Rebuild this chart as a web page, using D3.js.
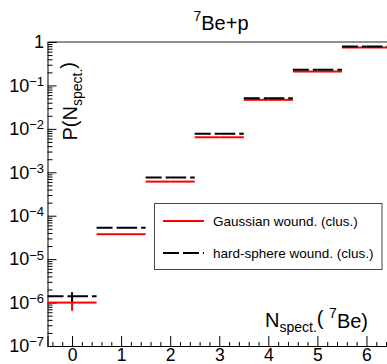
<!DOCTYPE html>
<html lang="en">
  <head>
    <meta charset="UTF-8" />
    <script src="https://d3js.org/d3.v7.min.js"></script>
    <style>
      body { margin: 0; background: #fff; }
      text { font-family: "Liberation Sans", Arial, Helvetica, sans-serif; }
    </style>
  </head>
  <body>
    <div id="chart"></div>
    <script>
      // bins of N_spect.(7Be)
      const bins = [0, 1, 2, 3, 4, 5, 6];
      // Gaussian wound. (clus.)
      const gaussVals = [1.0e-6, 3.75e-5, 6.1e-4, 6.4e-3, 0.0466, 0.209, 0.747];
      const gaussErrs = [0.35e-6, 1.0e-6, 6e-6, 4e-5, 2e-4, 6e-4, 1e-3];
      // hard-sphere wound. (clus.)
      const hardVals = [1.4e-6, 5.3e-5, 7.55e-4, 7.7e-3, 0.051, 0.229, 0.787];
      const hardErrs = [0.33e-6, 1.2e-6, 7e-6, 4e-5, 2e-4, 6e-4, 1e-3];

      const yMajor = [1e-7, 1e-6, 1e-5, 1e-4, 1e-3, 1e-2, 1e-1, 1];
      const xMajor = [0, 1, 2, 3, 4, 5, 6];

      const W = 387, H = 364;
      const margin = { top: 42, right: -4, bottom: 18, left: 47.5 };

      const svg = d3.select("#chart").append("svg")
        .attr("width", W).attr("height", H);

      const x = d3.scaleLinear().domain([-0.5, 6.5])
        .range([margin.left, W - margin.right]);
      const y = d3.scaleLog().domain([1e-7, 1])
        .range([H - margin.bottom, margin.top]);

      // minor ticks
      const yMinor = [];
      for (let e = -7; e < 0; e++) {
        for (let m = 2; m <= 9; m++) yMinor.push(m * Math.pow(10, e));
      }
      const xMinor = d3.range(-0.4, 6.5, 0.2).filter(v => Math.abs(v - Math.round(v)) > 0.01);

      // top frame line
      svg.append("line")
        .attr("x1", margin.left).attr("x2", W)
        .attr("y1", margin.top).attr("y2", margin.top)
        .attr("stroke", "#222").attr("stroke-width", 1);

      // y axis
      const yAxis = svg.append("g")
        .attr("transform", `translate(${margin.left},0)`)
        .call(d3.axisLeft(y).tickValues(yMajor).tickSize(-9).tickPadding(3.5)
          .tickFormat(() => ""));
      svg.append("g")
        .attr("transform", `translate(${margin.left},0)`)
        .call(d3.axisLeft(y).tickValues(yMinor).tickSize(-5).tickFormat(() => ""))
        .select(".domain").remove();

      yAxis.selectAll(".tick text").each(function (d) {
        const t = d3.select(this)
          .attr("font-size", 18).attr("fill", "#000")
          .attr("font-family", "Liberation Sans, Arial, sans-serif");
        const e = Math.round(Math.log10(d));
        if (e === 0) {
          t.text("1");
        } else {
          t.append("tspan").text("10");
          t.append("tspan").attr("font-size", 13).attr("dy", "-0.45em").text("\u2212" + (-e));
        }
      });
      yAxis.selectAll("path, line").attr("stroke", "#000");

      // x axis
      const xAxis = svg.append("g")
        .attr("transform", `translate(0,${H - margin.bottom})`)
        .call(d3.axisBottom(x).tickValues(xMajor).tickSize(-10).tickPadding(3)
          .tickFormat(d3.format("d")));
      svg.append("g")
        .attr("transform", `translate(0,${H - margin.bottom})`)
        .call(d3.axisBottom(x).tickValues(xMinor).tickSize(-4).tickFormat(() => ""))
        .select(".domain").remove();
      xAxis.selectAll(".tick text")
        .attr("font-size", 17.5).attr("fill", "#000")
        .attr("font-family", "Liberation Sans, Arial, sans-serif");

      // histograms with error bars
      function drawHist(vals, errs, color, dash) {
        const g = svg.append("g");
        bins.forEach((b, i) => {
          const cy = y(vals[i]);
          // horizontal bin width, drawn as two halves
          [[b - 0.5, b], [b, b + 0.5]].forEach(([a, c]) => {
            g.append("line")
              .attr("x1", x(a)).attr("x2", x(c))
              .attr("y1", cy).attr("y2", cy)
              .attr("stroke", color).attr("stroke-width", 2)
              .attr("stroke-dasharray", dash);
          });
          g.append("line")
            .attr("x1", x(b)).attr("x2", x(b))
            .attr("y1", y(vals[i] + errs[i])).attr("y2", y(vals[i] - errs[i]))
            .attr("stroke", color).attr("stroke-width", 2);
        });
      }
      drawHist(gaussVals, gaussErrs, "#ff0000", null);
      drawHist(hardVals, hardErrs, "#000000", "16,4");

      // legend
      const leg = svg.append("g");
      leg.append("rect")
        .attr("x", 154.5).attr("y", 203.5).attr("width", 227.5).attr("height", 66)
        .attr("fill", "#fff").attr("stroke", "#444").attr("stroke-width", 1);
      const legItems = [
        { label: "Gaussian wound. (clus.)", color: "#ff0000", dash: null, yy: 221 },
        { label: "hard-sphere wound. (clus.)", color: "#000000", dash: "16,4", yy: 253 }
      ];
      legItems.forEach(it => {
        leg.append("line")
          .attr("x1", 163).attr("x2", 204).attr("y1", it.yy).attr("y2", it.yy)
          .attr("stroke", it.color).attr("stroke-width", 2)
          .attr("stroke-dasharray", it.dash);
        leg.append("text")
          .attr("x", 213).attr("y", it.yy + 4.5)
          .attr("font-size", 13.5).attr("fill", "#000")
          .text(it.label);
      });

      // title
      const title = svg.append("text")
        .attr("x", 221).attr("y", 27)
        .attr("text-anchor", "middle").attr("font-size", 20);
      title.append("tspan").attr("font-size", 14).attr("dy", "-0.45em").text("7");
      title.append("tspan").attr("dy", "0.45em").text("Be+p");

      // y title
      const yt = svg.append("text")
        .attr("transform", "translate(77,62) rotate(-90)")
        .attr("text-anchor", "end").attr("font-size", 20);
      yt.append("tspan").text("P(N");
      yt.append("tspan").attr("font-size", 14).attr("dy", "0.35em").text("spect.");
      yt.append("tspan").attr("dy", "-0.35em").text(")");

      // x title
      const xt = svg.append("text")
        .attr("x", 368).attr("y", 327)
        .attr("text-anchor", "end").attr("font-size", 20);
      xt.append("tspan").text("N");
      xt.append("tspan").attr("font-size", 14).attr("dy", "0.35em").text("spect.");
      xt.append("tspan").attr("dy", "-0.35em").text("( ");
      xt.append("tspan").attr("font-size", 14).attr("dy", "-0.5em").text("7");
      xt.append("tspan").attr("dy", "0.5em").text("Be)");
    </script>
  </body>
</html>
